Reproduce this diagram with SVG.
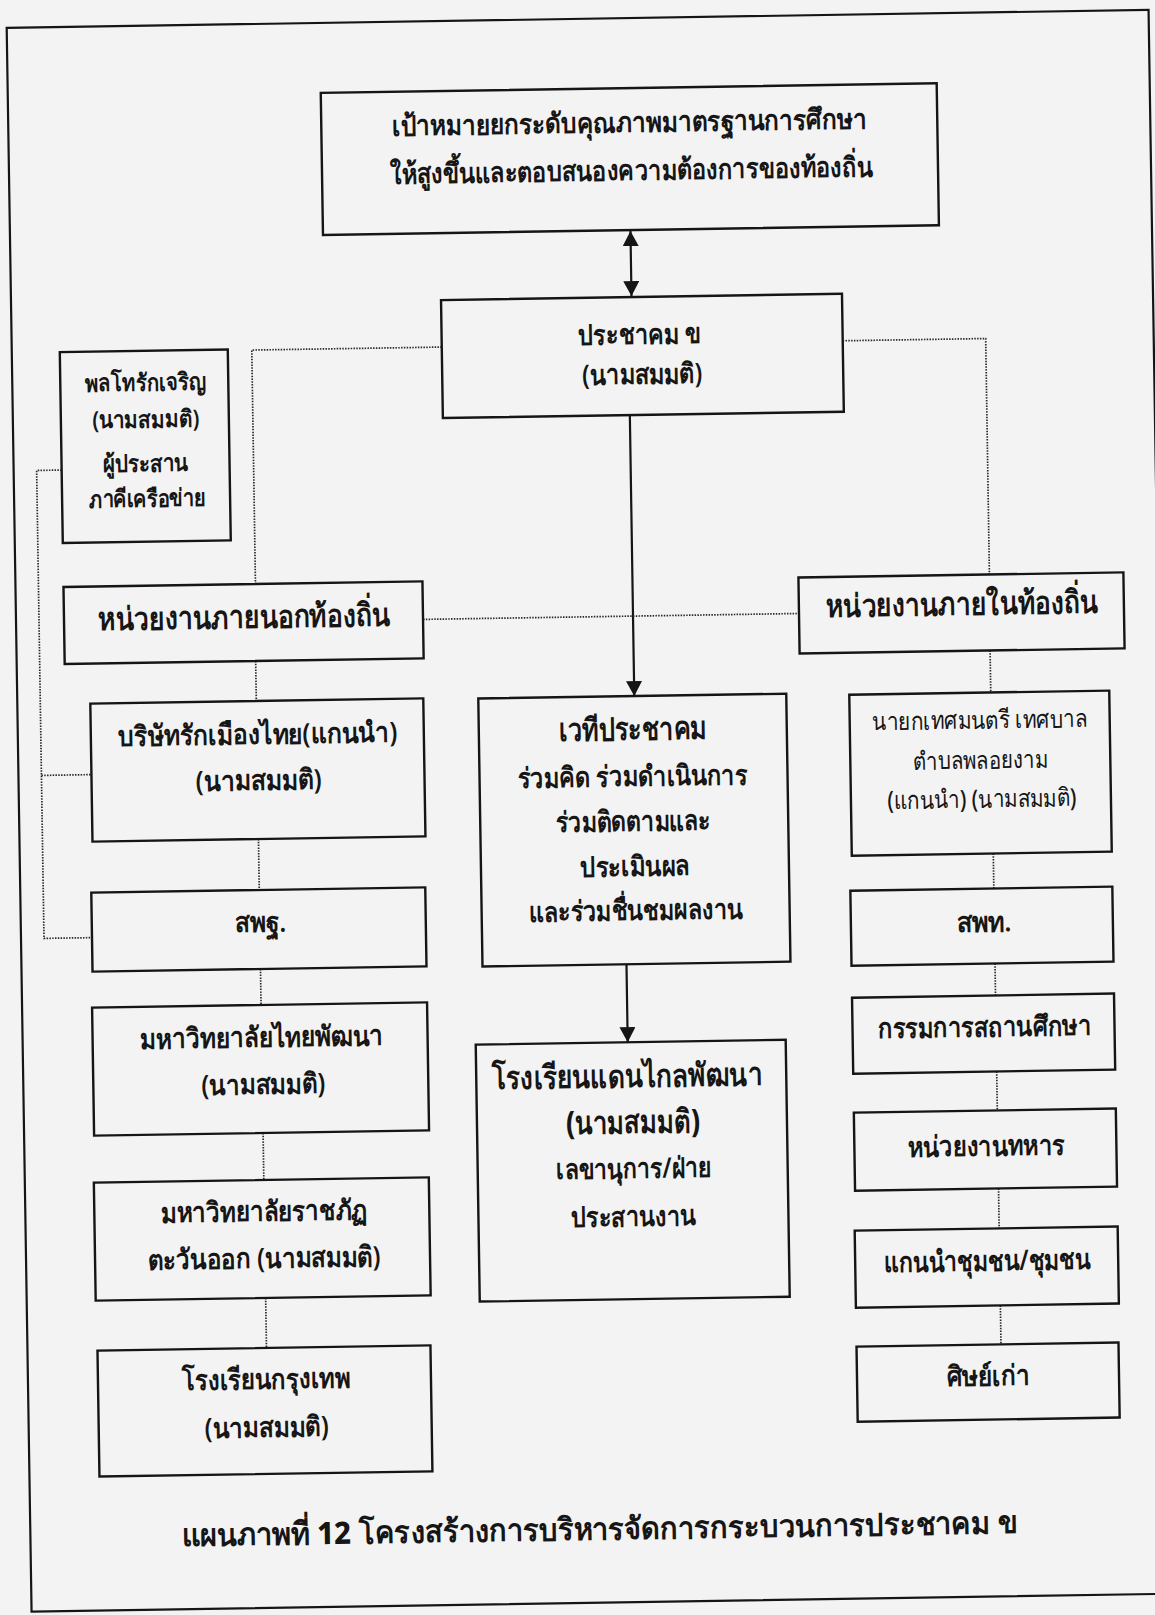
<svg xmlns="http://www.w3.org/2000/svg" width="1155" height="1615" viewBox="0 0 1155 1615">
<defs>
<marker id="ah" viewBox="0 0 15 16" markerWidth="15" markerHeight="16" refX="15" refY="8" orient="auto-start-reverse" markerUnits="userSpaceOnUse">
<path d="M0,0 L15,8 L0,16 z" fill="#151515"/>
</marker>
<style>
.bx{fill:none;stroke:#151515;stroke-width:2.4}
.fr{fill:none;stroke:#151515;stroke-width:2.2}
.dot{fill:none;stroke:#2a2a2a;stroke-width:1.7;stroke-dasharray:1.5 1.3}
.sol{fill:none;stroke:#151515;stroke-width:2.2}
text{font-family:'Noto Sans','DejaVu Sans',sans-serif;fill:#161616;text-anchor:middle}
.t{font-size:28px;font-weight:600}
.p{font-size:24px;font-weight:600}
.s{font-size:25px;font-weight:500}
.b{font-size:32px;font-weight:800}
.c{font-size:31px;font-weight:800}
</style>
</defs>
<rect x="0" y="0" width="1155" height="1615" fill="#f3f3f3"/>
<g transform="rotate(-0.9 577 807)">
<rect class="fr" x="19" y="19" width="1142" height="1584"/>
<g id="connectors">
<line class="sol" x1="639.5" y1="232" x2="639.5" y2="297" marker-start="url(#ah)" marker-end="url(#ah)"/>
<line class="sol" x1="636" y1="416" x2="636" y2="697" marker-end="url(#ah)"/>
<line class="sol" x1="624" y1="965" x2="624" y2="1043" marker-end="url(#ah)"/>
<polyline class="dot" points="449,345 259,345 259,580"/>
<polyline class="dot" points="850,345 993,345 993,581"/>
<line class="dot" x1="426" y1="617" x2="802" y2="617"/>
<line class="dot" x1="258" y1="656" x2="258" y2="696"/>
<line class="dot" x1="258" y1="834" x2="258" y2="885"/>
<line class="dot" x1="258" y1="964" x2="258" y2="1000"/>
<line class="dot" x1="258" y1="1128" x2="258" y2="1175"/>
<line class="dot" x1="258" y1="1293" x2="258" y2="1343"/>
<line class="dot" x1="992.5" y1="657" x2="992.5" y2="699"/>
<line class="dot" x1="992.5" y1="860" x2="992.5" y2="895"/>
<line class="dot" x1="992.5" y1="970" x2="992.5" y2="1002"/>
<line class="dot" x1="992.5" y1="1078" x2="992.5" y2="1117"/>
<line class="dot" x1="992.5" y1="1195" x2="992.5" y2="1235"/>
<line class="dot" x1="992.5" y1="1312" x2="992.5" y2="1351"/>
<polyline class="dot" points="67,462 42,462 42,930 90,930"/>
<line class="dot" x1="42" y1="767" x2="92" y2="767"/>
</g>
<g id="n-goal">
<rect class="bx" x="332" y="89" width="616" height="142"/>
<text class="t" x="640" y="133" textLength="475" lengthAdjust="spacingAndGlyphs">เป้าหมายยกระดับคุณภาพมาตรฐานการศึกษา</text>
<text class="t" x="641" y="181" textLength="483" lengthAdjust="spacingAndGlyphs">ให้สูงขึ้นและตอบสนองความต้องการของท้องถิ่น</text>
</g>
<g id="n-community">
<rect class="bx" x="449" y="298" width="401" height="118"/>
<text class="t" x="647" y="345" textLength="123" lengthAdjust="spacingAndGlyphs">ประชาคม ข</text>
<text class="t" x="649" y="385" textLength="120" lengthAdjust="spacingAndGlyphs">(นามสมมติ)</text>
</g>
<g id="n-coordinator">
<rect class="bx" x="67" y="344" width="168" height="191"/>
<text class="p" x="152" y="384" textLength="121" lengthAdjust="spacingAndGlyphs">พลโทรักเจริญ</text>
<text class="p" x="152" y="421" textLength="107" lengthAdjust="spacingAndGlyphs">(นามสมมติ)</text>
<text class="p" x="151" y="465" textLength="85" lengthAdjust="spacingAndGlyphs">ผู้ประสาน</text>
<text class="p" x="152" y="500" textLength="116" lengthAdjust="spacingAndGlyphs">ภาคีเครือข่าย</text>
</g>
<g id="n-external">
<rect class="bx" x="67" y="579" width="359" height="77"/>
<text class="b" x="247" y="623" textLength="292" lengthAdjust="spacingAndGlyphs">หน่วยงานภายนอกท้องถิ่น</text>
</g>
<g id="n-company">
<rect class="bx" x="92" y="696" width="333" height="138"/>
<text class="t" x="259" y="739" textLength="279" lengthAdjust="spacingAndGlyphs">บริษัทรักเมืองไทย(แกนนำ)</text>
<text class="t" x="259" y="785" textLength="126" lengthAdjust="spacingAndGlyphs">(นามสมมติ)</text>
</g>
<g id="n-obec">
<rect class="bx" x="90" y="885" width="334" height="79"/>
<text class="t" x="259" y="927" textLength="51" lengthAdjust="spacingAndGlyphs">สพฐ.</text>
</g>
<g id="n-univ1">
<rect class="bx" x="89" y="1000" width="335" height="128"/>
<text class="t" x="258" y="1042" textLength="243" lengthAdjust="spacingAndGlyphs">มหาวิทยาลัยไทยพัฒนา</text>
<text class="t" x="259" y="1089" textLength="124" lengthAdjust="spacingAndGlyphs">(นามสมมติ)</text>
</g>
<g id="n-univ2">
<rect class="bx" x="88" y="1175" width="335" height="118"/>
<text class="t" x="258" y="1216" textLength="207" lengthAdjust="spacingAndGlyphs">มหาวิทยาลัยราชภัฏ</text>
<text class="t" x="257" y="1263" textLength="233" lengthAdjust="spacingAndGlyphs">ตะวันออก (นามสมมติ)</text>
</g>
<g id="n-bkkschool">
<rect class="bx" x="89" y="1343" width="333" height="126"/>
<text class="t" x="257" y="1384" textLength="168" lengthAdjust="spacingAndGlyphs">โรงเรียนกรุงเทพ</text>
<text class="t" x="257" y="1432" textLength="124" lengthAdjust="spacingAndGlyphs">(นามสมมติ)</text>
</g>
<g id="n-forum">
<rect class="bx" x="480" y="697" width="308" height="268"/>
<text class="b" x="634" y="741" textLength="148" lengthAdjust="spacingAndGlyphs">เวทีประชาคม</text>
<text class="t" x="633" y="787" textLength="230" lengthAdjust="spacingAndGlyphs">ร่วมคิด ร่วมดำเนินการ</text>
<text class="t" x="633" y="832" textLength="155" lengthAdjust="spacingAndGlyphs">ร่วมติดตามและ</text>
<text class="t" x="634" y="877" textLength="110" lengthAdjust="spacingAndGlyphs">ประเมินผล</text>
<text class="t" x="634" y="921" textLength="214" lengthAdjust="spacingAndGlyphs">และร่วมชื่นชมผลงาน</text>
</g>
<g id="n-school">
<rect class="bx" x="472" y="1043" width="310" height="257"/>
<text class="b" x="623" y="1088" textLength="270" lengthAdjust="spacingAndGlyphs">โรงเรียนแดนไกลพัฒนา</text>
<text class="b" x="628" y="1134" textLength="134" lengthAdjust="spacingAndGlyphs">(นามสมมติ)</text>
<text class="t" x="628" y="1179" textLength="155" lengthAdjust="spacingAndGlyphs">เลขานุการ/ฝ่าย</text>
<text class="t" x="627" y="1227" textLength="125" lengthAdjust="spacingAndGlyphs">ประสานงาน</text>
</g>
<g id="n-internal">
<rect class="bx" x="802" y="581" width="325" height="76"/>
<text class="b" x="965" y="621" textLength="272" lengthAdjust="spacingAndGlyphs">หน่วยงานภายในท้องถิ่น</text>
</g>
<g id="n-mayor">
<rect class="bx" x="851" y="699" width="260" height="161"/>
<text class="s" x="981" y="735" textLength="215" lengthAdjust="spacingAndGlyphs">นายกเทศมนตรี เทศบาล</text>
<text class="s" x="981" y="775" textLength="135" lengthAdjust="spacingAndGlyphs">ตำบลพลอยงาม</text>
<text class="s" x="982" y="814" textLength="189" lengthAdjust="spacingAndGlyphs">(แกนนำ) (นามสมมติ)</text>
</g>
<g id="n-esao">
<rect class="bx" x="849" y="895" width="262" height="75"/>
<text class="t" x="982" y="938" textLength="55" lengthAdjust="spacingAndGlyphs">สพท.</text>
</g>
<g id="n-board">
<rect class="bx" x="849" y="1002" width="262" height="76"/>
<text class="t" x="981" y="1043" textLength="213" lengthAdjust="spacingAndGlyphs">กรรมการสถานศึกษา</text>
</g>
<g id="n-military">
<rect class="bx" x="849" y="1117" width="262" height="78"/>
<text class="t" x="981" y="1162" textLength="157" lengthAdjust="spacingAndGlyphs">หน่วยงานทหาร</text>
</g>
<g id="n-leaders">
<rect class="bx" x="848" y="1235" width="263" height="77"/>
<text class="t" x="980" y="1277" textLength="207" lengthAdjust="spacingAndGlyphs">แกนนำชุมชน/ชุมชน</text>
</g>
<g id="n-alumni">
<rect class="bx" x="848" y="1351" width="262" height="75"/>
<text class="t" x="979" y="1392" textLength="83" lengthAdjust="spacingAndGlyphs">ศิษย์เก่า</text>
</g>
<text class="c" x="588" y="1540" textLength="836" lengthAdjust="spacingAndGlyphs">แผนภาพที่ 12 โครงสร้างการบริหารจัดการกระบวนการประชาคม ข</text>
</g>
</svg>
